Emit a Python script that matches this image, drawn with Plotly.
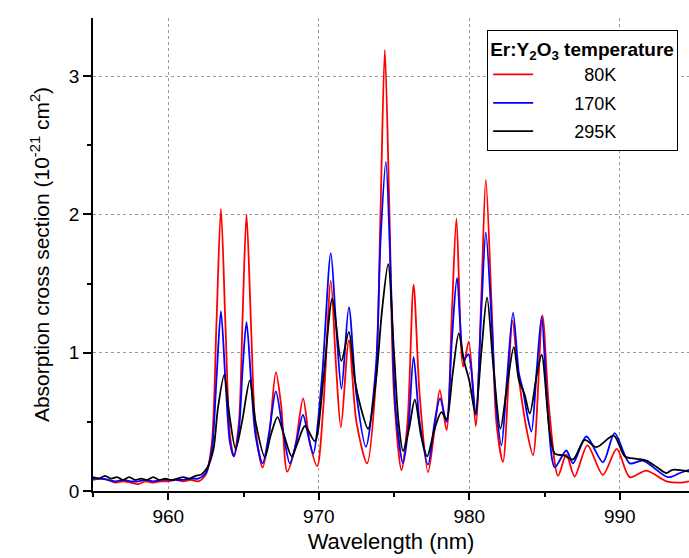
import plotly.graph_objects as go

# ---------------- data ----------------
wl_80 = [955.0, 955.5, 956.0, 956.5, 957.0, 957.5, 958.0, 958.5, 959.0, 959.5, 960.0, 960.5,
         961.0, 961.5, 962.0, 962.5, 962.9, 963.2, 963.5, 963.8, 964.1, 964.36, 964.7, 964.95,
         965.2, 965.5, 965.8, 966.27, 966.7, 967.15, 967.5, 967.9, 968.4, 968.96, 969.4, 969.9,
         970.3, 970.8, 971.15, 971.47, 972.0, 972.5, 973.21, 973.8, 974.1, 974.39, 974.7, 975.0,
         975.5, 975.9, 976.3, 976.7, 977.26, 977.7, 978.04, 978.49, 978.85, 979.15, 979.59,
         979.97, 980.43, 980.8, 981.1, 981.5, 981.8, 982.24, 982.87, 983.2, 983.57, 983.8,
         984.24, 984.86, 985.3, 985.9, 986.45, 987.0, 987.85, 988.88, 989.8, 990.66, 991.77,
         993.1, 994.0, 994.6]
xs_80 = [0.08, 0.09, 0.08, 0.06, 0.07, 0.06, 0.05, 0.07, 0.06, 0.07, 0.07, 0.08,
         0.07, 0.08, 0.07, 0.12, 0.35, 1.2, 2.04, 1.2, 0.4, 0.25, 0.5, 1.3,
         2.0, 1.2, 0.45, 0.17, 0.4, 0.86, 0.62, 0.14, 0.3, 0.67, 0.35, 0.18,
         0.6, 1.52, 0.9, 0.46, 1.09, 0.5, 0.2, 0.8, 2.0, 3.19, 2.0, 0.7,
         0.15, 0.5, 1.49, 0.7, 0.136, 0.45, 0.73, 0.44, 1.3, 1.97, 0.9,
         1.08, 0.47, 1.4, 2.25, 1.3, 0.5, 0.21, 1.23, 0.9, 0.6, 0.45,
         0.26, 1.27, 0.6, 0.11, 0.264, 0.105, 0.33, 0.117, 0.305, 0.10, 0.148,
         0.07, 0.06, 0.07]

wl_170 = [955.0, 955.5, 956.0, 956.5, 957.0, 957.5, 958.0, 958.5, 959.0, 959.5, 960.0, 960.5,
          961.0, 961.5, 962.0, 962.5, 962.9, 963.2, 963.5, 963.8, 964.1, 964.36, 964.7, 964.95,
          965.2, 965.5, 965.8, 966.27, 966.7, 967.15, 967.6, 968.08, 968.5, 968.95, 969.3, 969.63,
          970.2, 970.8, 971.15, 971.51, 972.0, 972.5, 973.13, 973.8, 974.1, 974.46, 974.8, 975.1,
          975.6, 975.95, 976.3, 976.7, 977.26, 977.7, 978.06, 978.49, 978.85, 979.19, 979.65,
          979.95, 980.43, 980.8, 981.1, 981.5, 981.8, 982.14, 982.5, 982.91, 983.3, 983.57,
          983.85, 984.13, 984.5, 984.81, 985.2, 985.68, 986.45, 986.89, 987.78, 988.88, 989.66,
          990.66, 991.54, 993.2, 994.0, 994.6]
xs_170 = [0.09, 0.09, 0.08, 0.07, 0.08, 0.07, 0.07, 0.08, 0.07, 0.08, 0.08, 0.08,
          0.08, 0.09, 0.09, 0.13, 0.3, 0.8, 1.30, 0.8, 0.35, 0.25, 0.45, 0.9,
          1.22, 0.8, 0.4, 0.2, 0.42, 0.72, 0.45, 0.2, 0.35, 0.55, 0.4, 0.27,
          0.8, 1.72, 1.2, 0.74, 1.33, 0.7, 0.32, 0.9, 1.8, 2.38, 1.5, 0.6,
          0.2, 0.45, 0.97, 0.5, 0.19, 0.5, 0.67, 0.50, 1.1, 1.54, 0.95,
          0.99, 0.55, 1.3, 1.87, 1.2, 0.6, 0.33, 0.8, 1.29, 0.85, 0.73,
          0.55, 0.43, 0.9, 1.26, 0.6, 0.172, 0.293, 0.20, 0.394, 0.208, 0.418,
          0.20, 0.22, 0.10, 0.13, 0.153]

wl_295 = [955.0, 955.4, 955.8, 956.2, 956.6, 957.0, 957.4, 957.8, 958.2, 958.6, 959.0, 959.4,
          959.8, 960.2, 960.6, 961.0, 961.4, 961.8, 962.2, 962.6, 963.0, 963.3, 963.72, 964.0,
          964.48, 964.9, 965.42, 965.8, 966.42, 966.8, 967.26, 967.7, 968.2, 968.6, 969.08,
          969.74, 970.3, 970.9, 971.5, 972.0, 972.4, 972.73, 973.28, 973.8, 974.2, 974.61,
          975.0, 975.3, 975.6, 976.0, 976.38, 976.8, 977.2, 977.7, 978.15, 978.49, 978.9,
          979.3, 979.65, 980.0, 980.41, 980.8, 981.18, 981.6, 982.07, 982.5, 982.96, 983.3,
          983.67, 984.02, 984.5, 984.81, 985.35, 985.68, 986.3, 986.9, 987.67, 988.45, 989.6,
          990.34, 991.1, 991.77, 992.5, 993.1, 993.5, 994.6]
xs_295 = [0.10, 0.09, 0.11, 0.09, 0.10, 0.08, 0.10, 0.08, 0.09, 0.08, 0.10, 0.08,
          0.09, 0.08, 0.09, 0.10, 0.09, 0.11, 0.12, 0.17, 0.3, 0.6, 0.84, 0.6,
          0.305, 0.5, 0.80, 0.5, 0.245, 0.4, 0.534, 0.4, 0.25, 0.35, 0.47,
          0.36, 0.8, 1.39, 0.94, 1.15, 0.8, 0.63, 0.45, 0.8, 1.3, 1.64,
          1.0, 0.5, 0.29, 0.45, 0.66, 0.4, 0.25, 0.45, 0.57, 0.52, 0.85,
          1.14, 0.94, 0.8, 0.56, 1.0, 1.40, 0.9, 0.45, 0.75, 1.04, 0.8,
          0.70, 0.56, 0.85, 0.985, 0.42, 0.27, 0.257, 0.228, 0.37, 0.317, 0.40,
          0.25, 0.233, 0.22, 0.17, 0.129, 0.153, 0.14]

series_names = ["\u200780K", "170K", "295K"]
series_colors = ["#ff0000", "#0000ff", "#000000"]

x_ticks = [960, 970, 980, 990]
y_ticks = [0, 1, 2, 3]

FONT = "Liberation Sans, Arial, Helvetica, sans-serif"

fig = go.Figure()
for i, (wl, xs, name, col) in enumerate(zip([wl_80, wl_170, wl_295], [xs_80, xs_170, xs_295],
                                            series_names, series_colors)):
    fig.add_trace(go.Scatter(
        x=wl, y=xs, mode="lines", name="\u2003\u2003" + name,
        legendgroup="g%d" % i,
        line=dict(color=col, width=1.8, shape="spline", smoothing=0.8),
    ))

fig.update_layout(
    width=689, height=558,
    margin=dict(l=93, r=0, t=18, b=67),
    paper_bgcolor="white", plot_bgcolor="white",
    font=dict(family=FONT, size=19, color="black"),
    showlegend=True,
    legend=dict(
        x=0.661, y=0.974, xanchor="left", yanchor="top",
        bgcolor="white", bordercolor="black", borderwidth=1.2,
        font=dict(size=18, family=FONT),
        title=dict(text="<b>Er:Y<sub>2</sub>O<sub>3</sub> temperature</b>",
                   font=dict(size=19, family=FONT)),
        itemwidth=40, tracegroupgap=2,
    ),
)

fig.update_xaxes(
    range=[955, 994.6], tickmode="array", tickvals=x_ticks,
    ticktext=[str(v) for v in x_ticks],
    ticks="outside", ticklen=7, tickwidth=1.5, tickcolor="black",
    minor=dict(ticks="outside", ticklen=4, tickwidth=1.5, tickcolor="black",
               dtick=5, tick0=955, showgrid=False),
    showline=True, linecolor="black", linewidth=1.5,
    showgrid=True, gridcolor="#9a9a9a", gridwidth=1, griddash="dot",
    zeroline=False,
    title=dict(text="Wavelength (nm)", font=dict(size=22), standoff=8),
    tickfont=dict(size=19),
)
fig.update_yaxes(
    range=[0, 3.42], tickmode="array", tickvals=y_ticks,
    ticktext=[str(v) for v in y_ticks],
    ticks="outside", ticklen=8, tickwidth=1.5, tickcolor="black",
    minor=dict(ticks="outside", ticklen=4, tickwidth=1.5, tickcolor="black",
               dtick=0.5, tick0=0, showgrid=False),
    showline=True, linecolor="black", linewidth=1.5,
    showgrid=True, gridcolor="#9a9a9a", gridwidth=1, griddash="dot",
    zeroline=False,
    title=dict(text="Absorption cross section (10<sup>-21</sup> cm<sup>2</sup>)",
               font=dict(size=21), standoff=14),
    tickfont=dict(size=19),
)

fig.write_html("out.html")
